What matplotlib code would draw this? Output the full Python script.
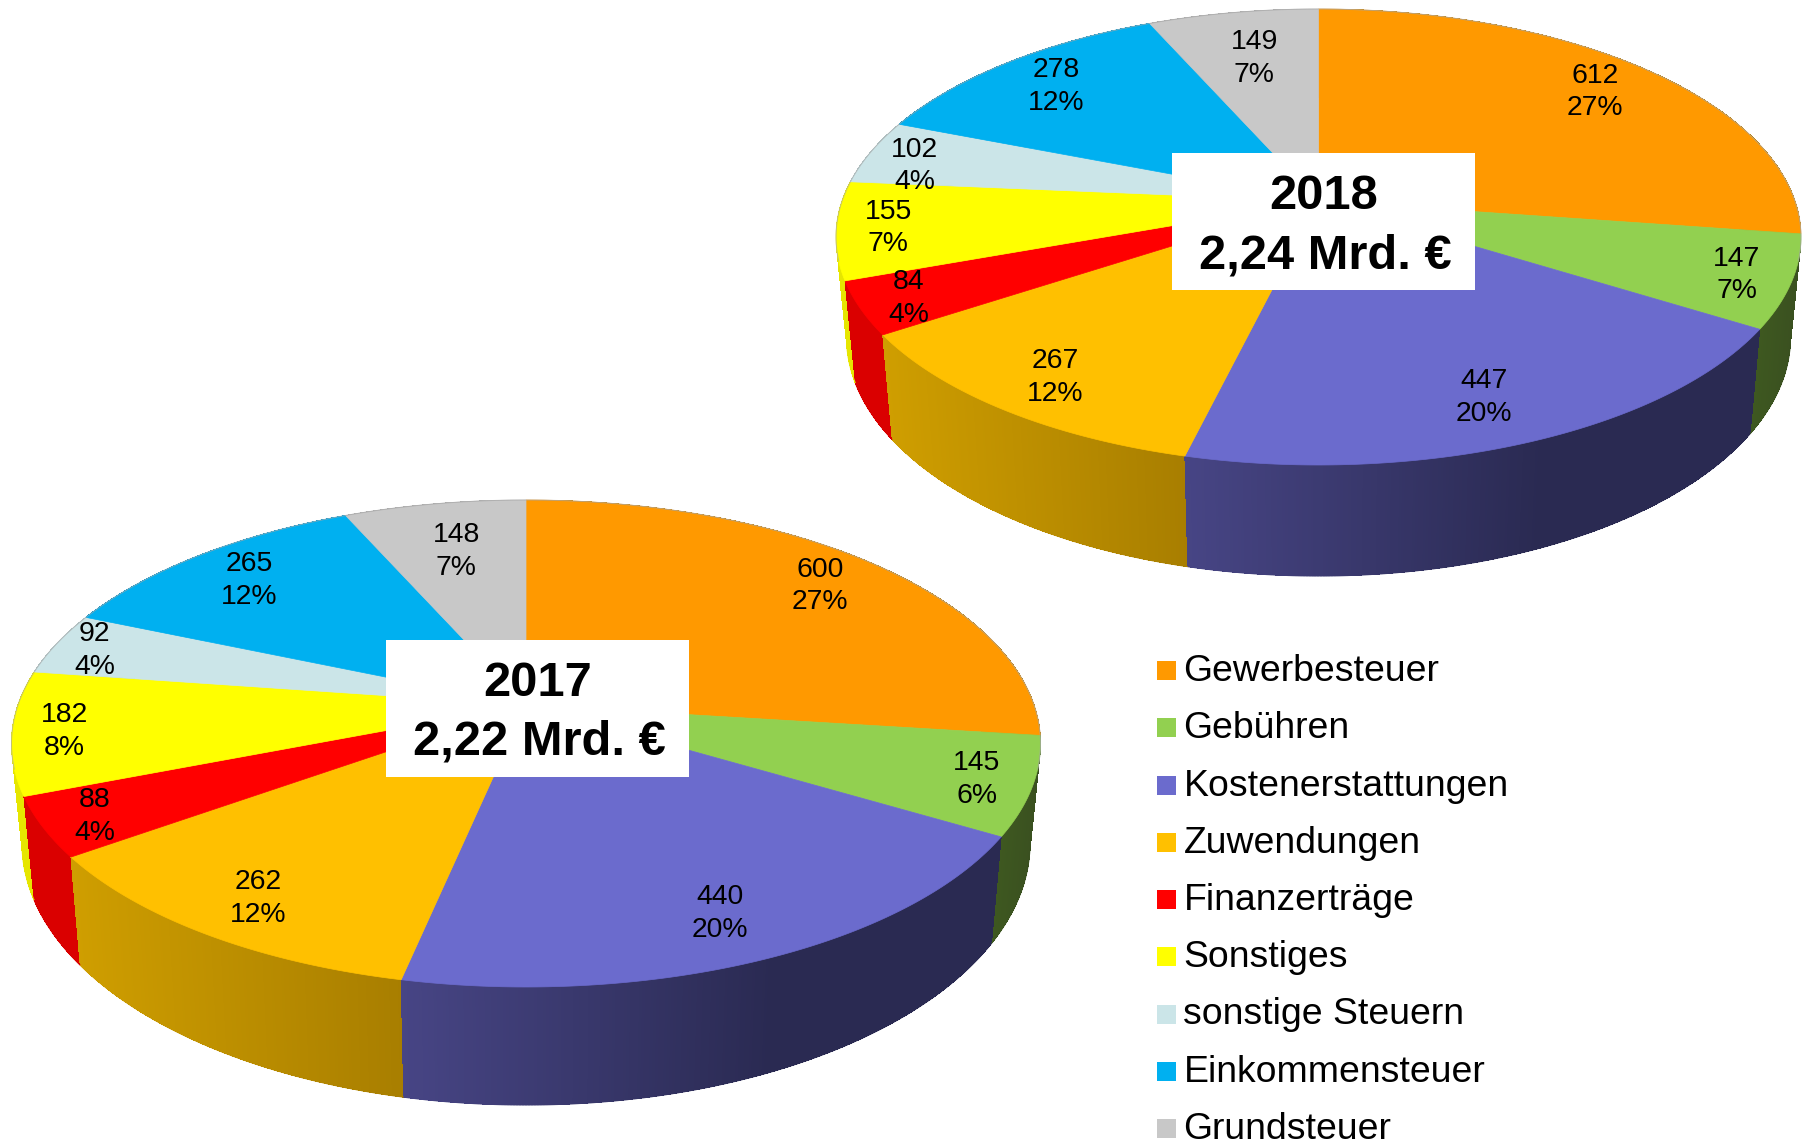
import numpy as np
import matplotlib
matplotlib.use("Agg")
import matplotlib.pyplot as plt
from matplotlib.patches import Polygon, Rectangle
from matplotlib.collections import PolyCollection, LineCollection

# ---------- data ----------
categories = ["Gewerbesteuer", "Gebühren", "Kostenerstattungen", "Zuwendungen", "Finanzerträge",
              "Sonstiges", "sonstige Steuern", "Einkommensteuer", "Grundsteuer"]
values_2018 = [612, 147, 447, 267, 84, 155, 102, 278, 149]
percent_2018 = [27, 7, 20, 12, 4, 7, 4, 12, 7]
values_2017 = [600, 145, 440, 262, 88, 182, 92, 265, 148]
percent_2017 = [27, 6, 20, 12, 4, 8, 4, 12, 7]
title_2018 = ["2018", "2,24 Mrd. €"]
title_2017 = ["2017", "2,22 Mrd. €"]

# ---------- style / layout ----------
FONT = "Liberation Sans"
top_colors = ["#FF9900", "#92D050", "#6B6BCD", "#FFC000", "#FF0000", "#FFFF00", "#CBE5E8", "#00B0F0", "#C8C8C8"]
# side wall colour at its left and right end, and where the right colour is reached
side_left = ["#B07A00", "#3F5A20", "#474585", "#CF9E00", "#DA0000", "#E6E600", "#A8C0C2", "#0090C8", "#A0A0A0"]
side_right = ["#B07A00", "#3A5020", "#2A2A52", "#A87E00", "#DA0000", "#E6E600", "#A8C0C2", "#0090C8", "#A0A0A0"]
grad_stop = [1, 1, 0.62, 1, 1, 1, 1, 1, 1]

GEOM_2018 = dict(cx=1318.5, cy=237, rx=482.5, ry=228, cx2=1318.5, cy2=337, rx2=472, ry2=239, e=0.158)
GEOM_2017 = dict(cx=526, cy=743.5, rx=514.5, ry=243.5, cx2=526, cy2=843, rx2=504, ry2=262, e=0.158)
BOX_2018 = (1172.5, 153, 302.5, 137)
BOX_2017 = (386, 640, 303, 137)
S = 1806 / 1568
LABEL_2018 = [(1384.5, 78), (1508, 237), (1288.5, 343), (916.5, 326), (789, 257), (771, 196), (794, 142), (917, 73), (1089, 49)]
LABEL_2017 = [(712, 507), (848, 675), (625, 791), (224, 778), (82, 707), (56, 633), (82, 563), (216, 502), (396, 477)]


def project(theta, g):
    """Clockwise angle from 12 o'clock -> normalised ellipse coordinates under perspective."""
    x, y = np.sin(theta), np.cos(theta)
    d = 1 + g["e"] * y
    return x * np.sqrt(1 - g["e"] ** 2) / d, (y + g["e"]) / d


def lerp_color(c0, c1, f):
    a = np.array(matplotlib.colors.to_rgb(c0))
    b = np.array(matplotlib.colors.to_rgb(c1))
    return tuple(a + (b - a) * f)


def draw_pie(ax, values, percents, g, labels, box, title):
    values = np.asarray(values, float)
    edges = np.concatenate([[0], np.cumsum(values)]) / values.sum() * 2 * np.pi
    apex = (g["cx"], g["cy"] - g["e"] * g["ry"])

    # side walls
    walls = []
    rim = []
    for i in range(len(values)):
        th = np.linspace(edges[i], edges[i + 1], max(int((edges[i + 1] - edges[i]) * 200), 4))
        u, v = project(th, g)
        xt = g["cx"] + g["rx"] * u
        yt = g["cy"] - g["ry"] * v
        xb = g["cx2"] + g["rx2"] * u
        yb = g["cy2"] - g["ry2"] * v
        x_lo, x_hi = min(xt.min(), xb.min()), max(xt.max(), xb.max())
        for k in range(len(th) - 1):
            xm = 0.5 * (xt[k] + xt[k + 1])
            f = min(1.0, (xm - x_lo) / max(x_hi - x_lo, 1) / grad_stop[i])
            col = lerp_color(side_left[i], side_right[i], f)
            pts = [(xt[k], yt[k]), (xt[k + 1], yt[k + 1]), (xb[k + 1], yb[k + 1]), (xb[k], yb[k])]
            walls.append((0.5 * (yb[k] + yb[k + 1]), pts, col))
            if min(yb[k], yb[k + 1]) > g["cy2"] + 0.02 * g["ry2"]:
                rim.append(([(xb[k], yb[k]), (xb[k + 1], yb[k + 1])], col))
    walls.sort(key=lambda w: w[0])
    ax.add_collection(PolyCollection([w[1] for w in walls], facecolors=[w[2] for w in walls],
                                     edgecolors="none", linewidths=0, antialiaseds=False, zorder=2))
    ax.add_collection(LineCollection([r[0] for r in rim], colors=[r[1] for r in rim], linewidths=0.8, zorder=2.1))

    # top faces
    for i in range(len(values)):
        th = np.linspace(edges[i], edges[i + 1], 200)
        u, v = project(th, g)
        pts = [apex] + list(zip(g["cx"] + g["rx"] * u, g["cy"] - g["ry"] * v))
        ax.add_patch(Polygon(pts, closed=True, facecolor=top_colors[i], edgecolor=top_colors[i], lw=0.5, zorder=3))

    # thin grey rim of the back half
    th = np.linspace(np.radians(255), np.radians(360 + 105), 400)
    u, v = project(th, g)
    ax.plot(g["cx"] + g["rx"] * u, g["cy"] - g["ry"] * v, color="#A8A8A8", lw=0.7, alpha=0.7, zorder=3.5)

    # value labels
    for (lx, ly), val, pct in zip(labels, values, percents):
        x, y = lx * S, ly * S
        ax.text(x, y - 7, f"{int(val)}", fontsize=20.4, family=FONT, ha="center", va="baseline", color="black", zorder=6)
        ax.text(x, y + 25.5, f"{pct}%", fontsize=20.4, family=FONT, ha="center", va="baseline", color="black", zorder=6)

    # title box
    bx, by, bw, bh = box
    ax.add_patch(Rectangle((bx, by), bw, bh, facecolor="white", edgecolor="none", zorder=5))
    xc = bx + bw / 2
    ax.text(xc, by + 56, title[0], fontsize=35.2, fontweight="bold", family=FONT, ha="center", va="baseline", zorder=6)
    ax.text(xc + 2, by + 115, title[1], fontsize=35.2, fontweight="bold", family=FONT, ha="center", va="baseline", zorder=6)


fig = plt.figure(figsize=(18.06, 11.43), dpi=100, facecolor="white")
ax = fig.add_axes([0, 0, 1, 1])
ax.set_xlim(0, 1806)
ax.set_ylim(1143, 0)
ax.axis("off")

draw_pie(ax, values_2018, percent_2018, GEOM_2018, LABEL_2018, BOX_2018, title_2018)
draw_pie(ax, values_2017, percent_2017, GEOM_2017, LABEL_2017, BOX_2017, title_2017)

# legend
LEG_X, LEG_Y, LEG_SIZE, LEG_STEP, LEG_TEXT_X = 1157, 661, 19, 57.25, 1183.5
for i, name in enumerate(categories):
    y = LEG_Y + i * LEG_STEP
    ax.add_patch(Rectangle((LEG_X, y), LEG_SIZE, LEG_SIZE, facecolor=top_colors[i], edgecolor="none", zorder=4))
    ax.text(LEG_TEXT_X, y + LEG_SIZE + 1, name, fontsize=26.9, family=FONT, ha="left", va="baseline", color="black", zorder=6)

fig.savefig("out.png", dpi=100, facecolor="white")
